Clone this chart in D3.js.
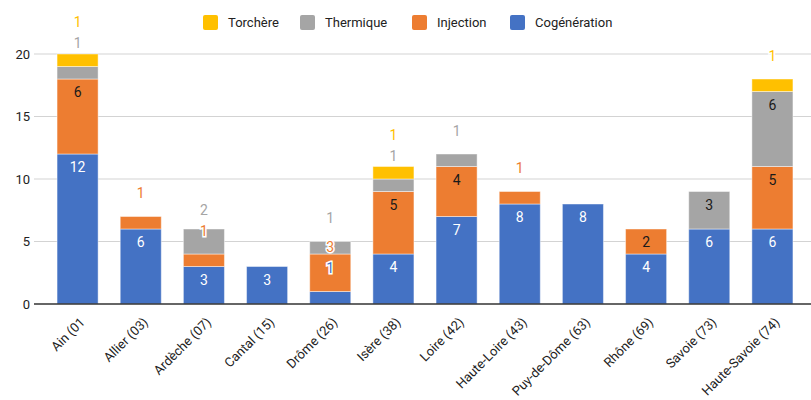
<!DOCTYPE html>
<html>
<head>
<meta charset="utf-8">
<script src="https://cdnjs.cloudflare.com/ajax/libs/d3/7.8.5/d3.min.js"></script>
<style>
  body { margin: 0; background: #fff; }
  svg { font-family: Roboto, "Noto Sans", sans-serif; }
</style>
</head>
<body>
<div id="chart"></div>
<script>
// categories and series, bottom of the stack first
const departements = ['Ain (01', 'Allier (03)', 'Ardèche (07)', 'Cantal (15)', 'Drôme (26)', 'Isère (38)',
  'Loire (42)', 'Haute-Loire (43)', 'Puy-de-Dôme (63)', 'Rhône (69)', 'Savoie (73)', 'Haute-Savoie (74)'];
const cogeneration = [12, 6, 3, 3, 1, 4, 7, 8, 8, 4, 6, 6];
const injection    = [6, 1, 1, 0, 3, 5, 4, 1, 0, 2, 0, 5];
const thermique    = [1, 0, 2, 0, 1, 1, 1, 0, 0, 0, 3, 6];
const torchere     = [1, 0, 0, 0, 0, 1, 0, 0, 0, 0, 0, 1];
const yTicks = [0, 5, 10, 15, 20];

const series = [
  { name: 'Cogénération', values: cogeneration, color: '#4472c4', inside: '#ffffff' },
  { name: 'Injection', values: injection, color: '#ed7d31', inside: '#1a1a1a' },
  { name: 'Thermique', values: thermique, color: '#a5a5a5', inside: '#1a1a1a' },
  { name: 'Torchère', values: torchere, color: '#ffc000', inside: '#1a1a1a' }
];

const width = 811, height = 400;
const svg = d3.select('#chart').append('svg')
  .attr('width', width)
  .attr('height', height);

const x = d3.scaleBand()
  .domain(departements)
  .range([46, 804])
  .paddingInner(0.35)
  .paddingOuter(0.175);

const y = d3.scaleLinear()
  .domain([0, 20])
  .range([304, 54]);

// gridlines + y tick labels
const grid = svg.append('g');
grid.selectAll('line')
  .data(yTicks.filter(d => d > 0))
  .join('line')
  .attr('x1', 34).attr('x2', 811)
  .attr('y1', d => y(d)).attr('y2', d => y(d))
  .attr('stroke', '#d3d3d3')
  .attr('stroke-width', 1);

grid.selectAll('text')
  .data(yTicks)
  .join('text')
  .attr('x', 30)
  .attr('y', d => y(d))
  .attr('dy', '0.35em')
  .attr('text-anchor', 'end')
  .attr('font-size', 13)
  .attr('fill', '#222')
  .text(d => d);

// stack the data
const rows = departements.map((dep, i) => {
  const r = { dep };
  series.forEach(s => { r[s.name] = s.values[i]; });
  return r;
});
const stacked = d3.stack().keys(series.map(s => s.name))(rows);

// bars
const bars = svg.append('g');
stacked.forEach((layer, si) => {
  bars.append('g')
    .selectAll('rect')
    .data(layer.filter(d => d[1] > d[0]))
    .join('rect')
    .attr('x', d => x(d.data.dep))
    .attr('y', d => y(d[1]))
    .attr('width', x.bandwidth())
    .attr('height', d => y(d[0]) - y(d[1]))
    .attr('fill', series[si].color)
    .attr('stroke', 'rgba(255,255,255,0.45)')
    .attr('stroke-width', 1);
});

// x axis baseline
svg.append('line')
  .attr('x1', 34).attr('x2', 811)
  .attr('y1', y(0)).attr('y2', y(0))
  .attr('stroke', '#333')
  .attr('stroke-width', 1.5);

// data labels: inside end when the segment is tall enough, otherwise above,
// pushed upward to avoid overlapping the label below
const labels = [];
departements.forEach((dep, i) => {
  let prev = null;
  stacked.forEach((layer, si) => {
    const d = layer[i];
    const v = d[1] - d[0];
    if (v <= 0) return;
    const top = y(d[1]);
    const h = y(d[0]) - top;
    let ly, outside;
    if (h >= 20) { ly = top + 13.5; outside = false; }
    else { ly = top - 23; outside = true; }
    if (prev !== null && ly > prev - 21) { ly = prev - 21; outside = true; }
    prev = ly;
    labels.push({ cx: x(dep) + x.bandwidth() / 2, ly, v, outside, s: series[si] });
  });
});

const lab = svg.append('g')
  .selectAll('text')
  .data(labels)
  .join('text')
  .attr('x', d => d.cx)
  .attr('y', d => d.ly)
  .attr('dy', '0.35em')
  .attr('text-anchor', 'middle')
  .attr('font-size', 14)
  .attr('fill', d => d.outside ? d.s.color : d.s.inside)
  .attr('stroke', d => d.outside ? '#fff' : 'none')
  .attr('stroke-width', 3)
  .attr('paint-order', 'stroke')
  .text(d => d.v);

// x labels
svg.append('g')
  .selectAll('text')
  .data(departements)
  .join('text')
  .attr('transform', d => `translate(${x(d) + x.bandwidth() / 2 + 8},${323}) rotate(-45)`)
  .attr('text-anchor', 'end')
  .attr('font-size', 13)
  .attr('fill', '#222')
  .text(d => d);

// legend (top of stack first)
const legendItems = series.slice().reverse();
const legendX = [203, 300, 412, 510];
const legend = svg.append('g');
legendItems.forEach((s, i) => {
  const g = legend.append('g').attr('transform', `translate(${legendX[i]},15)`);
  g.append('rect')
    .attr('width', 15).attr('height', 15)
    .attr('rx', 2)
    .attr('fill', s.color);
  g.append('text')
    .attr('x', 25)
    .attr('y', 7.5)
    .attr('dy', '0.35em')
    .attr('font-size', 13)
    .attr('fill', '#222')
    .text(s.name);
});
</script>
</body>
</html>
